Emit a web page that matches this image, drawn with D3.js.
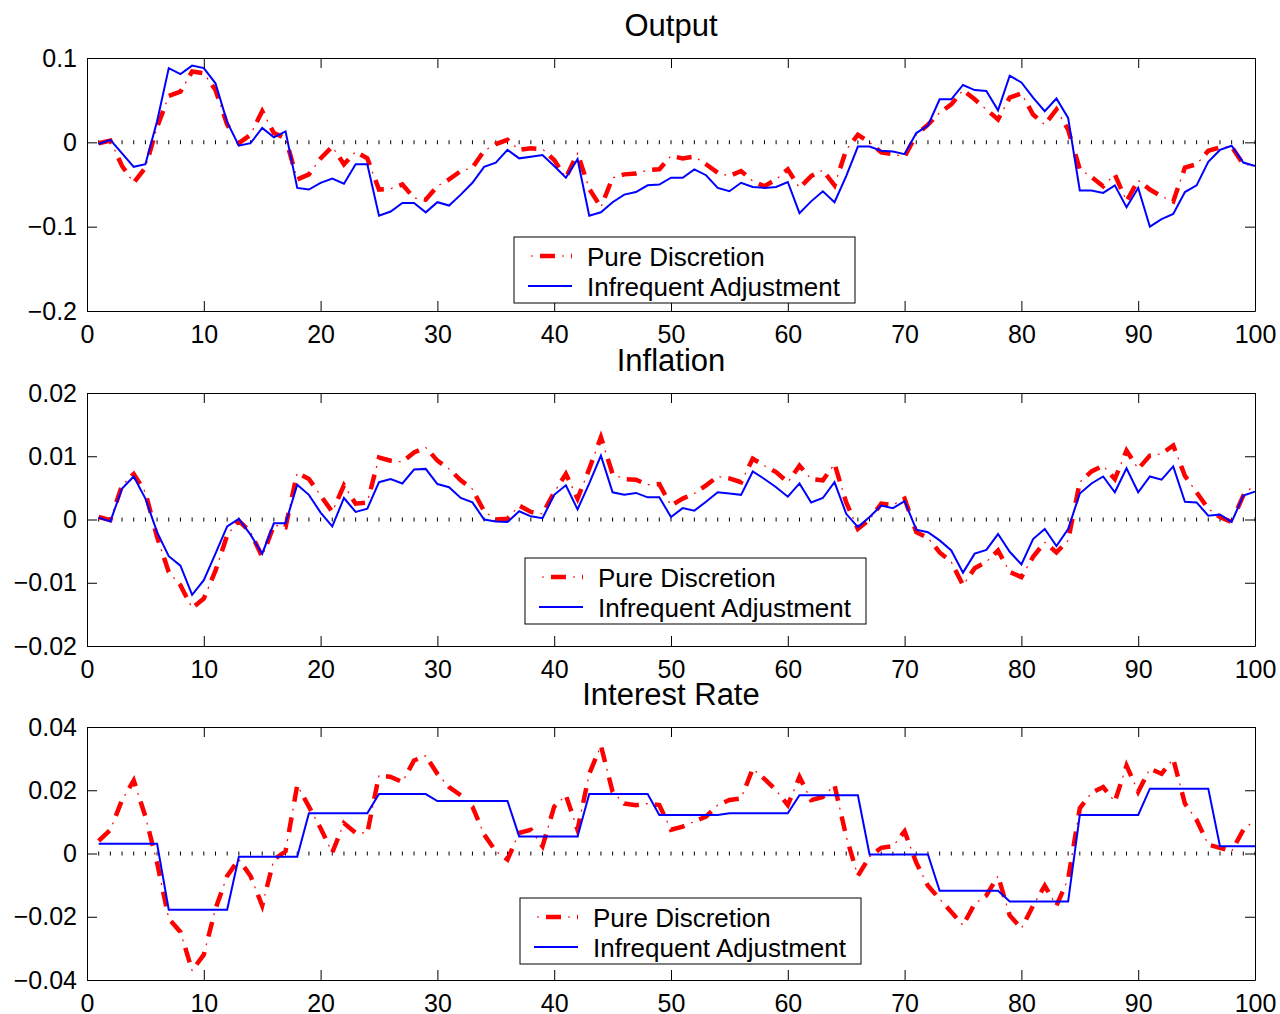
<!DOCTYPE html>
<html>
<head>
<meta charset="utf-8">
<script src="https://cdn.jsdelivr.net/npm/d3@7"></script>
<style>
  html, body { margin: 0; padding: 0; background: #fff; }
  svg { display: block; font-family: "Liberation Sans", Arial, Helvetica, sans-serif; }
</style>
</head>
<body>
<svg id="chart" width="1280" height="1014"></svg>
<script>
// ---------------- data ----------------
const periods = d3.range(1, 101);
const xTicks = [0, 10, 20, 30, 40, 50, 60, 70, 80, 90, 100];
const seriesNames = ["Pure Discretion", "Infrequent Adjustment"];
const panelTitles = ["Output", "Inflation", "Interest Rate"];

const outputYTicks = [-0.2, -0.1, 0, 0.1];
const inflationYTicks = [-0.02, -0.01, 0, 0.01, 0.02];
const interestYTicks = [-0.04, -0.02, 0, 0.02, 0.04];

const outputDiscretion = [
  -0.001, 0.002, -0.028, -0.048, -0.030, 0.018, 0.055, 0.060, 0.084, 0.082,
  0.062, 0.021, -0.001, 0.009, 0.037, 0.011, 0.005, -0.044, -0.038, -0.019,
  -0.005, -0.026, -0.011, -0.019, -0.056, -0.055, -0.050, -0.066, -0.068, -0.052,
  -0.044, -0.034, -0.030, -0.010, -0.002, 0.003, -0.009, -0.007, -0.008, -0.021,
  -0.042, -0.013, -0.055, -0.077, -0.042, -0.038, -0.037, -0.033, -0.032, -0.016,
  -0.019, -0.017, -0.026, -0.036, -0.040, -0.034, -0.046, -0.052, -0.044, -0.032,
  -0.054, -0.040, -0.033, -0.051, -0.009, 0.009, 0.000, -0.012, -0.014, -0.017,
  0.009, 0.021, 0.035, 0.045, 0.062, 0.051, 0.039, 0.027, 0.053, 0.058,
  0.033, 0.021, 0.039, 0.015, -0.032, -0.041, -0.052, -0.038, -0.070, -0.045,
  -0.056, -0.064, -0.070, -0.030, -0.026, -0.010, -0.006, -0.005, -0.026, -0.028
];
const outputInfrequent = [
  -0.002, 0.003, -0.013, -0.029, -0.026, 0.025, 0.088, 0.081, 0.091, 0.088,
  0.070, 0.024, -0.004, -0.001, 0.017, 0.006, 0.013, -0.054, -0.056, -0.048,
  -0.043, -0.049, -0.026, -0.026, -0.087, -0.082, -0.072, -0.072, -0.083, -0.071,
  -0.075, -0.062, -0.048, -0.029, -0.024, -0.009, -0.019, -0.017, -0.015, -0.028,
  -0.042, -0.020, -0.087, -0.083, -0.071, -0.062, -0.059, -0.051, -0.050, -0.042,
  -0.042, -0.032, -0.039, -0.054, -0.058, -0.048, -0.053, -0.054, -0.053, -0.047,
  -0.084, -0.070, -0.058, -0.071, -0.040, -0.005, -0.005, -0.010, -0.011, -0.014,
  0.011, 0.020, 0.051, 0.051, 0.068, 0.062, 0.061, 0.038, 0.079, 0.071,
  0.053, 0.037, 0.052, 0.029, -0.057, -0.057, -0.060, -0.051, -0.077, -0.054,
  -0.100, -0.091, -0.085, -0.059, -0.051, -0.023, -0.009, -0.004, -0.024, -0.028
];

const inflationDiscretion = [
  0.0004, -0.0001, 0.0054, 0.0072, 0.0043, -0.0028, -0.0083, -0.0104, -0.0140, -0.0125,
  -0.0081, -0.0025, -0.0002, -0.0020, -0.0059, -0.0009, -0.0012, 0.0074, 0.0064, 0.0038,
  0.0012, 0.0054, 0.0025, 0.0027, 0.0098, 0.0093, 0.0091, 0.0106, 0.0114, 0.0093,
  0.0080, 0.0062, 0.0048, 0.0013, 0.0000, 0.0001, 0.0022, 0.0012, 0.0009, 0.0043,
  0.0072, 0.0033, 0.0080, 0.0130, 0.0072, 0.0064, 0.0063, 0.0055, 0.0056, 0.0022,
  0.0033, 0.0041, 0.0054, 0.0068, 0.0065, 0.0059, 0.0096, 0.0085, 0.0075, 0.0059,
  0.0085, 0.0064, 0.0062, 0.0088, 0.0027, -0.0015, 0.0000, 0.0025, 0.0023, 0.0033,
  -0.0020, -0.0029, -0.0052, -0.0067, -0.0104, -0.0077, -0.0067, -0.0049, -0.0083, -0.0091,
  -0.0059, -0.0036, -0.0052, -0.0033, 0.0059, 0.0076, 0.0085, 0.0064, 0.0109, 0.0080,
  0.0101, 0.0104, 0.0117, 0.0069, 0.0043, 0.0017, 0.0004, -0.0004, 0.0038, 0.0056
];
const inflationInfrequent = [
  0.0003, -0.0003, 0.0049, 0.0068, 0.0033, -0.0020, -0.0058, -0.0073, -0.0119, -0.0096,
  -0.0054, -0.0011, 0.0001, -0.0024, -0.0054, -0.0006, -0.0006, 0.0055, 0.0039, 0.0011,
  -0.0011, 0.0034, 0.0012, 0.0017, 0.0059, 0.0064, 0.0057, 0.0079, 0.0080, 0.0056,
  0.0051, 0.0034, 0.0027, 0.0000, -0.0003, -0.0004, 0.0013, 0.0005, 0.0002, 0.0039,
  0.0054, 0.0016, 0.0057, 0.0101, 0.0043, 0.0039, 0.0042, 0.0035, 0.0035, 0.0004,
  0.0018, 0.0014, 0.0028, 0.0043, 0.0041, 0.0039, 0.0076, 0.0064, 0.0051, 0.0036,
  0.0057, 0.0027, 0.0034, 0.0059, 0.0009, -0.0012, 0.0004, 0.0022, 0.0018, 0.0029,
  -0.0016, -0.0020, -0.0033, -0.0049, -0.0084, -0.0054, -0.0048, -0.0023, -0.0051, -0.0071,
  -0.0031, -0.0015, -0.0042, -0.0015, 0.0041, 0.0057, 0.0068, 0.0043, 0.0081, 0.0043,
  0.0068, 0.0063, 0.0084, 0.0028, 0.0027, 0.0006, 0.0008, -0.0004, 0.0038, 0.0044
];

const interestDiscretion = [
  0.0040, 0.0075, 0.0169, 0.0231, 0.0117, -0.0029, -0.0206, -0.0248, -0.0370, -0.0320,
  -0.0175, -0.0071, -0.0019, -0.0071, -0.0165, -0.0019, 0.0007, 0.0216, 0.0148, 0.0080,
  0.0003, 0.0096, 0.0065, 0.0065, 0.0247, 0.0242, 0.0226, 0.0294, 0.0309, 0.0252,
  0.0210, 0.0184, 0.0148, 0.0060, 0.0007, -0.0019, 0.0065, 0.0075, 0.0023, 0.0148,
  0.0184, 0.0075, 0.0252, 0.0341, 0.0195, 0.0158, 0.0153, 0.0158, 0.0153, 0.0075,
  0.0085, 0.0101, 0.0117, 0.0153, 0.0169, 0.0174, 0.0268, 0.0236, 0.0200, 0.0153,
  0.0242, 0.0169, 0.0179, 0.0216, 0.0054, -0.0071, -0.0010, 0.0018, 0.0023, 0.0070,
  -0.0029, -0.0102, -0.0144, -0.0185, -0.0227, -0.0159, -0.0133, -0.0071, -0.0196, -0.0237,
  -0.0165, -0.0102, -0.0165, -0.0081, 0.0143, 0.0192, 0.0210, 0.0164, 0.0278, 0.0195,
  0.0268, 0.0252, 0.0299, 0.0158, 0.0106, 0.0028, 0.0018, 0.0007, 0.0075, 0.0106
];
const interestInfrequent = [
  0.0031, 0.0031, 0.0031, 0.0031, 0.0031, 0.0031, -0.0178, -0.0178, -0.0178, -0.0178,
  -0.0178, -0.0178, -0.0010, -0.0010, -0.0010, -0.0010, -0.0010, -0.0010, 0.0127, 0.0127,
  0.0127, 0.0127, 0.0127, 0.0127, 0.0188, 0.0188, 0.0188, 0.0188, 0.0188, 0.0166,
  0.0166, 0.0166, 0.0166, 0.0166, 0.0166, 0.0166, 0.0054, 0.0054, 0.0054, 0.0054,
  0.0054, 0.0054, 0.0188, 0.0188, 0.0188, 0.0188, 0.0188, 0.0188, 0.0122, 0.0122,
  0.0122, 0.0122, 0.0122, 0.0122, 0.0127, 0.0127, 0.0127, 0.0127, 0.0127, 0.0127,
  0.0184, 0.0184, 0.0184, 0.0184, 0.0184, 0.0184, -0.0003, -0.0003, -0.0003, -0.0003,
  -0.0003, -0.0003, -0.0118, -0.0118, -0.0118, -0.0118, -0.0118, -0.0118, -0.0152, -0.0152,
  -0.0152, -0.0152, -0.0152, -0.0152, 0.0122, 0.0122, 0.0122, 0.0122, 0.0122, 0.0122,
  0.0205, 0.0205, 0.0205, 0.0205, 0.0205, 0.0205, 0.0023, 0.0023, 0.0023, 0.0023
];

// ---------------- layout ----------------
const svg = d3.select("#chart");
const X0 = 87, X1 = 1255;
const panels = [
  { title: panelTitles[0], top: 58,  bottom: 311, domain: [-0.2, 0.1],   ticks: outputYTicks,
    red: outputDiscretion, blue: outputInfrequent, titleY: 36, legend: { x: 514, y: 237 } },
  { title: panelTitles[1], top: 393, bottom: 646, domain: [-0.02, 0.02], ticks: inflationYTicks,
    red: inflationDiscretion, blue: inflationInfrequent, titleY: 371, legend: { x: 525, y: 558 } },
  { title: panelTitles[2], top: 727, bottom: 980, domain: [-0.04, 0.04], ticks: interestYTicks,
    red: interestDiscretion, blue: interestInfrequent, titleY: 705, legend: { x: 520, y: 898 } }
];

const x = d3.scaleLinear().domain([0, 100]).range([X0, X1]);
const TICK_FONT = 25, LEGEND_FONT = 26, TITLE_FONT = 31;
const RED = "#ff0000", BLUE = "#0000ff";
const fmt = d => {
  if (d === 0) return "0";
  const s = String(+Math.abs(d).toFixed(4));
  return (d < 0 ? "\u2212" : "") + s;
};

function drawRed(g, pathD, baseOffset) {
  g.append("path").attr("d", pathD).attr("fill", "none")
    .attr("stroke", RED).attr("stroke-width", 4.5)
    .attr("stroke-dasharray", "15,16").attr("stroke-dashoffset", baseOffset);
  g.append("path").attr("d", pathD).attr("fill", "none")
    .attr("stroke", RED).attr("stroke-width", 1.2)
    .attr("stroke-dasharray", "2,29").attr("stroke-dashoffset", baseOffset + 9);
}

panels.forEach(p => {
  const y = d3.scaleLinear().domain(p.domain).range([p.bottom, p.top]);
  const g = svg.append("g");

  // zero dotted line
  g.append("line")
    .attr("x1", x(1) - 0.5).attr("x2", x(100) + 0.5)
    .attr("y1", y(0)).attr("y2", y(0))
    .attr("stroke", "#000").attr("stroke-width", 4)
    .attr("stroke-dasharray", "1," + (x(2) - x(1) - 1));

  // series
  const line = d3.line().x((d, i) => x(periods[i])).y(d => y(d));
  drawRed(g, line(p.red), 0);
  g.append("path").attr("d", line(p.blue)).attr("fill", "none")
    .attr("stroke", BLUE).attr("stroke-width", 2).attr("stroke-linejoin", "miter");

  // axes (box with inward ticks)
  const styleAxis = a => {
    a.selectAll("path.domain").attr("stroke", "#000").attr("stroke-width", 1);
    a.selectAll(".tick line").attr("stroke", "#000").attr("stroke-width", 1);
    a.selectAll("text").attr("font-size", TICK_FONT).attr("fill", "#000")
      .attr("font-family", "Liberation Sans, Arial, sans-serif");
  };
  svg.append("g").attr("transform", `translate(0,${p.bottom})`)
    .call(d3.axisBottom(x).tickValues(xTicks).tickSize(-10).tickSizeOuter(0).tickPadding(14).tickFormat(d3.format("d")))
    .call(styleAxis);
  svg.append("g").attr("transform", `translate(0,${p.top})`)
    .call(d3.axisTop(x).tickValues(xTicks).tickSize(-10).tickSizeOuter(0).tickFormat(""))
    .call(styleAxis);
  svg.append("g").attr("transform", `translate(${X0},0)`)
    .call(d3.axisLeft(y).tickValues(p.ticks).tickSize(-10).tickSizeOuter(0).tickPadding(10).tickFormat(fmt))
    .call(styleAxis);
  svg.append("g").attr("transform", `translate(${X1},0)`)
    .call(d3.axisRight(y).tickValues(p.ticks).tickSize(-10).tickSizeOuter(0).tickFormat(""))
    .call(styleAxis);

  // title
  svg.append("text").attr("x", (X0 + X1) / 2).attr("y", p.titleY)
    .attr("text-anchor", "middle").attr("font-size", TITLE_FONT).attr("fill", "#000")
    .text(p.title);

  // legend
  const L = svg.append("g").attr("transform", `translate(${p.legend.x},${p.legend.y})`);
  L.append("rect").attr("x", 0).attr("y", 0).attr("width", 341).attr("height", 66)
    .attr("fill", "#fff").attr("stroke", "#000").attr("stroke-width", 1);
  const sample1 = `M14,19L58,19`;
  drawRed(L, sample1, 19);
  L.append("path").attr("d", `M14,49L58,49`).attr("stroke", BLUE).attr("stroke-width", 2);
  L.append("text").attr("x", 73).attr("y", 28.5).attr("font-size", LEGEND_FONT).attr("fill", "#000").text(seriesNames[0]);
  L.append("text").attr("x", 73).attr("y", 58.5).attr("font-size", LEGEND_FONT).attr("fill", "#000").text(seriesNames[1]);
});
</script>
</body>
</html>
